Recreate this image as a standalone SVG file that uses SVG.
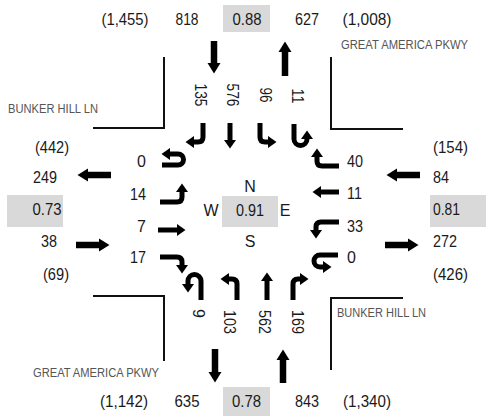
<svg xmlns="http://www.w3.org/2000/svg" width="486" height="416" viewBox="0 0 486 416">
<style>
text{font-family:"Liberation Sans Narrow","Liberation Sans",Arial,sans-serif;fill:#1a1a1a}
.n{font-size:16px}
.m{text-anchor:middle}
.e{text-anchor:end}
.st{font-size:12px;fill:#555}
.box{fill:#d9d9d9}
.curb{fill:none;stroke:#111;stroke-width:2}
.t{fill:none;stroke:#000;stroke-width:5}
.b{fill:none;stroke:#000;stroke-width:6.5}
</style>
<defs>
<marker id="ht" markerUnits="userSpaceOnUse" markerWidth="10" markerHeight="14" refX="0" refY="0" viewBox="0 -7 10 14" orient="auto"><path d="M0,-6 L8.5,0 L0,6 z" fill="#000"/></marker>
<marker id="hb" markerUnits="userSpaceOnUse" markerWidth="12" markerHeight="16" refX="0" refY="0" viewBox="0 -8 12 16" orient="auto"><path d="M0,-6.5 L10.5,0 L0,6.5 z" fill="#000"/></marker>
</defs>
<rect width="486" height="416" fill="#fff"/>

<g id="curbs">
<polyline class="curb" points="164,57 164,128 93,128"/>
<polyline class="curb" points="331,57 331,129 403,129"/>
<polyline class="curb" points="93,296 164,296 164,361"/>
<polyline class="curb" points="403,298 331,298 331,370"/>
</g>

<g id="streets">
<text class="st" x="8" y="113" textLength="90" lengthAdjust="spacingAndGlyphs">BUNKER HILL LN</text>
<text class="st" x="341" y="49" textLength="127" lengthAdjust="spacingAndGlyphs">GREAT AMERICA PKWY</text>
<text class="st" x="337" y="317" textLength="89" lengthAdjust="spacingAndGlyphs">BUNKER HILL LN</text>
<text class="st" x="33" y="377" textLength="126" lengthAdjust="spacingAndGlyphs">GREAT AMERICA PKWY</text>
</g>

<g id="north-approach">
<text class="n m" x="125" y="25" textLength="47" lengthAdjust="spacingAndGlyphs">(1,455)</text>
<text class="n m" x="187" y="25" textLength="23" lengthAdjust="spacingAndGlyphs">818</text>
<rect class="box" x="223" y="5" width="47" height="27"/>
<text class="n m" x="247" y="25" textLength="29" lengthAdjust="spacingAndGlyphs">0.88</text>
<text class="n m" x="307" y="25" textLength="24" lengthAdjust="spacingAndGlyphs">627</text>
<text class="n m" x="367" y="25" textLength="49" lengthAdjust="spacingAndGlyphs">(1,008)</text>
<text class="n m" transform="translate(195,95) rotate(90)" textLength="23" lengthAdjust="spacingAndGlyphs">135</text>
<text class="n m" transform="translate(227,95) rotate(90)" textLength="23" lengthAdjust="spacingAndGlyphs">576</text>
<text class="n m" transform="translate(260,95) rotate(90)" textLength="15" lengthAdjust="spacingAndGlyphs">96</text>
<text class="n m" transform="translate(292,96) rotate(90)" textLength="15" lengthAdjust="spacingAndGlyphs">11</text>
</g>

<g id="west-approach">
<text class="n m" x="52" y="153" textLength="34" lengthAdjust="spacingAndGlyphs">(442)</text>
<text class="n m" x="45" y="183" textLength="24" lengthAdjust="spacingAndGlyphs">249</text>
<rect class="box" x="7" y="195" width="56" height="32"/>
<text class="n m" x="47" y="215" textLength="29" lengthAdjust="spacingAndGlyphs">0.73</text>
<text class="n m" x="49" y="247" textLength="16" lengthAdjust="spacingAndGlyphs">38</text>
<text class="n m" x="56" y="280" textLength="26" lengthAdjust="spacingAndGlyphs">(69)</text>
<text class="n e" x="146" y="167">0</text>
<text class="n e" x="146" y="200" textLength="16" lengthAdjust="spacingAndGlyphs">14</text>
<text class="n e" x="146" y="232">7</text>
<text class="n e" x="146" y="263" textLength="16" lengthAdjust="spacingAndGlyphs">17</text>
</g>

<g id="east-approach">
<text class="n" x="433" y="153" textLength="35" lengthAdjust="spacingAndGlyphs">(154)</text>
<text class="n" x="433" y="183" textLength="16" lengthAdjust="spacingAndGlyphs">84</text>
<rect class="box" x="430" y="195" width="56" height="32"/>
<text class="n" x="433" y="215" textLength="27" lengthAdjust="spacingAndGlyphs">0.81</text>
<text class="n" x="433" y="247" textLength="24" lengthAdjust="spacingAndGlyphs">272</text>
<text class="n" x="433" y="280" textLength="35" lengthAdjust="spacingAndGlyphs">(426)</text>
<text class="n" x="347" y="167" textLength="16" lengthAdjust="spacingAndGlyphs">40</text>
<text class="n" x="347" y="199" textLength="15" lengthAdjust="spacingAndGlyphs">11</text>
<text class="n" x="347" y="232" textLength="16" lengthAdjust="spacingAndGlyphs">33</text>
<text class="n" x="347" y="263">0</text>
</g>

<g id="south-approach">
<text class="n m" x="124" y="407" textLength="48" lengthAdjust="spacingAndGlyphs">(1,142)</text>
<text class="n m" x="187" y="407" textLength="25" lengthAdjust="spacingAndGlyphs">635</text>
<rect class="box" x="223" y="387" width="47" height="29"/>
<text class="n m" x="246.5" y="407" textLength="29" lengthAdjust="spacingAndGlyphs">0.78</text>
<text class="n m" x="307" y="407" textLength="24" lengthAdjust="spacingAndGlyphs">843</text>
<text class="n m" x="367" y="407" textLength="48" lengthAdjust="spacingAndGlyphs">(1,340)</text>
<text class="n" transform="translate(193,309) rotate(90)">9</text>
<text class="n" transform="translate(224,310) rotate(90)" textLength="24" lengthAdjust="spacingAndGlyphs">103</text>
<text class="n" transform="translate(259,310) rotate(90)" textLength="24" lengthAdjust="spacingAndGlyphs">562</text>
<text class="n" transform="translate(292,310) rotate(90)" textLength="24" lengthAdjust="spacingAndGlyphs">169</text>
</g>

<g id="intersection">
<text class="n m" x="250" y="192">N</text>
<text class="n m" x="211" y="216">W</text>
<rect class="box" x="222" y="196" width="56" height="31"/>
<text class="n m" x="250" y="216" textLength="28" lengthAdjust="spacingAndGlyphs">0.91</text>
<text class="n m" x="285" y="216">E</text>
<text class="n m" x="250" y="247">S</text>
</g>

<g id="connectors">
<!-- approach arrows -->
<path class="b" marker-end="url(#hb)" d="M214,41 V63"/>
<path class="b" marker-end="url(#hb)" d="M285,76 V52"/>
<path class="b" marker-end="url(#hb)" d="M215,349 V372"/>
<path class="b" marker-end="url(#hb)" d="M283,383 V360"/>
<path class="b" marker-end="url(#hb)" d="M111,175 H88"/>
<path class="b" marker-end="url(#hb)" d="M76,245 H99"/>
<path class="b" marker-end="url(#hb)" d="M420,175 H397"/>
<path class="b" marker-end="url(#hb)" d="M385,245 H408"/>
<!-- southbound -->
<path class="t" marker-end="url(#ht)" d="M203,123 V137 Q203,142 198,142 H194"/>
<path class="t" marker-end="url(#ht)" d="M230,123 V140"/>
<path class="t" marker-end="url(#ht)" d="M260,123 V137 Q260,142 265,142 H268"/>
<path class="t" marker-end="url(#ht)" d="M294,124 V139 A6.5,6.5 0 0 0 307,139"/>
<!-- westbound -->
<path class="t" marker-end="url(#ht)" d="M339,166 H322 Q317,166 317,161 V157"/>
<path class="t" marker-end="url(#ht)" d="M339,192 H321"/>
<path class="t" marker-end="url(#ht)" d="M339,222 H321 Q316,222 316,227 V230"/>
<path class="t" marker-end="url(#ht)" d="M338,255 H320 A6,6 0 0 0 320,267 H323"/>
<!-- northbound -->
<path class="t" marker-end="url(#ht)" d="M201,300 V281 A6.5,6.5 0 0 0 188,281 V284"/>
<path class="t" marker-end="url(#ht)" d="M237,300 V284 Q237,279 232,279 H229"/>
<path class="t" marker-end="url(#ht)" d="M267,300 V281"/>
<path class="t" marker-end="url(#ht)" d="M293,300 V284 Q293,279 298,279 H300"/>
<!-- eastbound -->
<path class="t" marker-end="url(#ht)" d="M162,165 H178 A5.5,5.5 0 0 0 178,154 H170"/>
<path class="t" marker-end="url(#ht)" d="M160,202 H177 Q182,202 182,197 V192"/>
<path class="t" marker-end="url(#ht)" d="M158,230 H177"/>
<path class="t" marker-end="url(#ht)" d="M160,257 H177 Q182,257 182,262 V265"/>
</g>
</svg>
